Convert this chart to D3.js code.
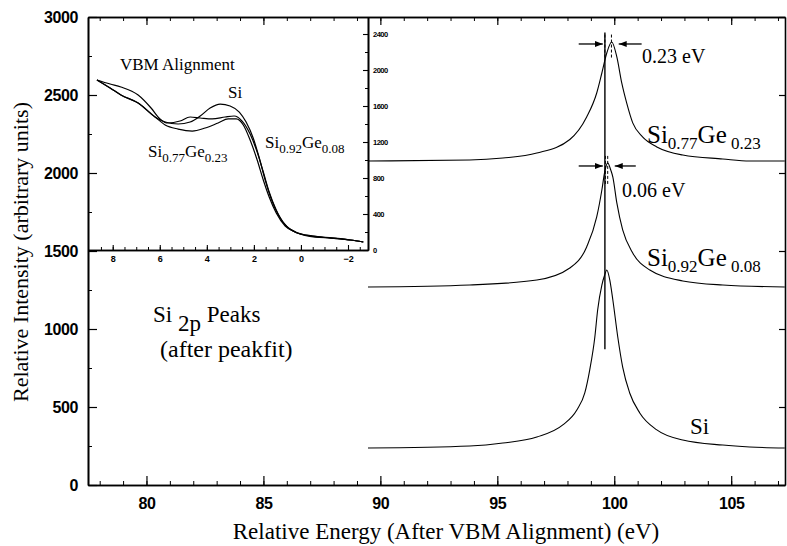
<!DOCTYPE html>
<html>
<head>
<meta charset="utf-8">
<script src="https://cdn.jsdelivr.net/npm/d3@7"></script>
<style>
  body { margin: 0; background: #fff; }
  .tick text { font-family: "Liberation Sans", Arial, sans-serif; font-weight: bold; }
</style>
</head>
<body>
<div id="chart"></div>
<script>
// main peaks: energy (eV) and intensity (arbitrary units)
var siE = [89.47, 93.82, 95.24, 96.69, 97.80, 98.40, 98.74, 98.95, 99.17, 99.29, 99.47, 99.59, 99.68, 99.81, 99.94, 100.15, 100.36, 100.66, 101.09, 101.82, 102.93, 104.64, 105.79, 107.29];
var siI = [237, 250, 269, 308, 385, 481, 590, 737, 949, 1122, 1282, 1346, 1378, 1314, 1186, 949, 756, 590, 462, 353, 288, 256, 244, 237];

var ge08E = [89.47, 93.82, 96.69, 98.10, 98.82, 99.25, 99.47, 99.59, 99.72, 99.85, 99.94, 100.11, 100.36, 100.79, 101.52, 102.93, 104.64, 107.29];
var ge08I = [1269, 1282, 1314, 1391, 1526, 1718, 1891, 2006, 2064, 2019, 1974, 1808, 1635, 1487, 1378, 1308, 1282, 1269];

var ge23E = [89.47, 93.82, 95.24, 96.69, 98.10, 98.82, 99.25, 99.47, 99.68, 99.89, 100.11, 100.32, 100.53, 100.79, 101.21, 101.82, 102.93, 104.64, 105.79, 107.29];
var ge23I = [2077, 2083, 2096, 2128, 2215, 2359, 2513, 2641, 2769, 2840, 2744, 2577, 2449, 2321, 2231, 2167, 2115, 2090, 2077, 2077];

// inset: VBM alignment spectra
var vbmE = [8.67, 8.11, 7.65, 6.92, 6.37, 5.99, 5.65, 5.14, 4.71, 4.28, 3.77, 3.22, 2.84, 2.50, 2.16, 1.86, 1.60, 1.35, 1.05, 0.67, 0.24, -0.40, -1.25, -2.10, -2.65];
var vbmGe08 = [1889, 1844, 1811, 1722, 1578, 1456, 1411, 1433, 1478, 1467, 1456, 1478, 1489, 1433, 1289, 1089, 867, 644, 444, 278, 200, 156, 133, 111, 89];

var vbmSiE = [8.67, 8.11, 7.65, 6.92, 6.20, 5.77, 5.22, 4.71, 4.28, 3.86, 3.43, 3.01, 2.62, 2.33, 2.03, 1.77, 1.52, 1.26, 0.96, 0.58, 0.16, -0.61, -1.46, -2.10, -2.65];
var vbmSi = [1889, 1800, 1722, 1633, 1478, 1422, 1400, 1422, 1489, 1578, 1622, 1600, 1533, 1422, 1244, 1022, 778, 567, 389, 256, 189, 144, 133, 111, 89];

var vbm23E = [8.67, 8.11, 7.65, 6.92, 6.20, 5.77, 5.22, 4.62, 4.07, 3.52, 3.09, 2.75, 2.45, 2.16, 1.86, 1.60, 1.35, 1.05, 0.67, 0.24, -0.48, -1.33, -2.10, -2.65];
var vbmGe23 = [1889, 1800, 1722, 1633, 1478, 1389, 1344, 1322, 1356, 1411, 1456, 1456, 1389, 1222, 1000, 778, 589, 411, 267, 200, 156, 133, 111, 89];

// ticks
var xMajor = [80, 85, 90, 95, 100, 105];
var yMajor = [0, 500, 1000, 1500, 2000, 2500, 3000];
var insetXTicks = [8, 6, 4, 2, 0, -2];
var insetYTicks = [0, 400, 800, 1200, 1600, 2000, 2400];

// shift annotations
var refLineE = 99.6;
var refLineI = [870, 2900];
var dashTopE = [99.6, 99.88];
var dashTopI = [2740, 2900];
var dashMidE = [99.62, 99.72];
var dashMidI = [1930, 2120];
var arrowFrom = [98.48, 101.17, 98.48, 100.92];
var arrowTo = [99.51, 100.19, 99.51, 100.02];
var arrowI = [2827, 2827, 2045, 2045];

var serif = "'Liberation Serif', 'Times New Roman', 'DejaVu Serif', serif";

var svgWidth = 787;
var svgHeight = 546;
var margin = { top: 17, right: 2, bottom: 61, left: 88 };
var width = svgWidth - margin.left - margin.right;
var height = svgHeight - margin.top - margin.bottom;

var svg = d3.select("#chart").append("svg")
  .attr("width", svgWidth)
  .attr("height", svgHeight)
  .style("background", "#fff");

var g = svg.append("g")
  .attr("transform", `translate(${margin.left}, ${margin.top})`);

var x = d3.scaleLinear().domain([77.5, 107.3]).range([0, width]);
var y = d3.scaleLinear().domain([0, 3000]).range([height, 0]);

// inset scales (reversed energy)
var insetW = 280, insetH = 233;
var xi = d3.scaleLinear().domain([9.05, -2.85]).range([0, insetW]);
var yi = d3.scaleLinear().domain([0, 2589]).range([insetH, 0]);

function minorRange(a, b, step) {
  var out = [];
  for (var v = a; v <= b + 1e-9; v += step) out.push(+v.toFixed(3));
  return out;
}

function styleAxis(sel, w) {
  sel.selectAll("path, line").attr("stroke", "#000").attr("stroke-width", w);
  sel.select(".domain").attr("stroke-width", 1.6);
}

// main axes
g.append("g").attr("transform", `translate(0, ${height})`)
  .call(d3.axisBottom(x).tickValues(minorRange(78, 107, 1)).tickSize(-4).tickSizeOuter(0).tickFormat(""))
  .call(styleAxis, 1);
g.append("g").attr("transform", `translate(0, ${height})`)
  .call(d3.axisBottom(x).tickValues(xMajor).tickSize(-9).tickSizeOuter(0).tickPadding(13).tickFormat(d3.format("d")))
  .call(styleAxis, 1.2)
  .selectAll("text").attr("font-size", 16).attr("letter-spacing", -0.4);

g.append("g")
  .call(d3.axisTop(x).tickValues(minorRange(78, 107, 1)).tickSize(-4).tickSizeOuter(0).tickFormat(""))
  .call(styleAxis, 1);
g.append("g")
  .call(d3.axisTop(x).tickValues(xMajor).tickSize(-8).tickSizeOuter(0).tickFormat(""))
  .call(styleAxis, 1.2);

g.append("g")
  .call(d3.axisLeft(y).tickValues(minorRange(250, 2750, 500)).tickSize(-4).tickSizeOuter(0).tickFormat(""))
  .call(styleAxis, 1);
g.append("g")
  .call(d3.axisLeft(y).tickValues(yMajor).tickSize(-9).tickSizeOuter(0).tickPadding(10).tickFormat(d3.format("d")))
  .call(styleAxis, 1.2)
  .selectAll("text").attr("font-size", 16).attr("letter-spacing", -0.4);

g.append("g").attr("transform", `translate(${width}, 0)`)
  .call(d3.axisRight(y).tickValues(yMajor).tickSize(-6).tickSizeOuter(0).tickFormat(""))
  .call(styleAxis, 1.2);

// main curves
var line = d3.line()
  .x(d => x(d[0]))
  .y(d => y(d[1]))
  .curve(d3.curveMonotoneX);

[[siE, siI], [ge08E, ge08I], [ge23E, ge23I]].forEach(function(s) {
  g.append("path")
    .datum(d3.zip(s[0], s[1]))
    .attr("fill", "none")
    .attr("stroke", "#000")
    .attr("stroke-width", 1.1)
    .attr("d", line);
});

// reference line and dashed peak markers
g.append("line")
  .attr("x1", x(refLineE)).attr("x2", x(refLineE))
  .attr("y1", y(refLineI[0])).attr("y2", y(refLineI[1]))
  .attr("stroke", "#000").attr("stroke-width", 1.4);

[[dashTopE, dashTopI], [dashMidE, dashMidI]].forEach(function(dv) {
  dv[0].forEach(function(e) {
    g.append("line")
      .attr("x1", x(e)).attr("x2", x(e))
      .attr("y1", y(dv[1][0])).attr("y2", y(dv[1][1]))
      .attr("stroke", "#000").attr("stroke-width", 1)
      .attr("stroke-dasharray", "3,2");
  });
});

svg.append("defs").append("marker")
  .attr("id", "head")
  .attr("viewBox", "0 0 8 6")
  .attr("refX", 8).attr("refY", 3)
  .attr("markerWidth", 8).attr("markerHeight", 6)
  .attr("markerUnits", "userSpaceOnUse")
  .attr("orient", "auto")
  .append("path").attr("d", "M0,0L8,3L0,6Z").attr("fill", "#000");

arrowFrom.forEach(function(a, i) {
  g.append("line")
    .attr("x1", x(a)).attr("x2", x(arrowTo[i]))
    .attr("y1", y(arrowI[i])).attr("y2", y(arrowI[i]))
    .attr("stroke", "#000").attr("stroke-width", 1.3)
    .attr("marker-end", "url(#head)");
});

// inset
var ig = g.append("g");
ig.append("g").attr("transform", `translate(0, ${insetH})`)
  .call(d3.axisBottom(xi).tickValues(minorRange(-2.5, 8.5, 0.5)).tickSize(-3).tickSizeOuter(0).tickFormat(""))
  .call(styleAxis, 1);
ig.append("g").attr("transform", `translate(0, ${insetH})`)
  .call(d3.axisBottom(xi).tickValues(insetXTicks).tickSize(-5).tickSizeOuter(0).tickPadding(6).tickFormat(d3.format("d")))
  .call(styleAxis, 1.1)
  .selectAll("text").attr("font-size", 9);

ig.append("g").attr("transform", `translate(${insetW}, 0)`)
  .call(d3.axisRight(yi).tickValues(minorRange(200, 2400, 400)).tickSize(-3).tickSizeOuter(0).tickFormat(""))
  .call(styleAxis, 1);
ig.append("g").attr("transform", `translate(${insetW}, 0)`)
  .call(d3.axisRight(yi).tickValues(insetYTicks).tickSize(-5).tickSizeOuter(0).tickPadding(5).tickFormat(d3.format("d")))
  .call(styleAxis, 1.1)
  .selectAll("text").attr("font-size", 7.5).attr("letter-spacing", -0.5);

var iline = d3.line()
  .x(d => xi(d[0]))
  .y(d => yi(d[1]))
  .curve(d3.curveMonotoneX);

[[vbmE, vbmGe08], [vbmSiE, vbmSi], [vbm23E, vbmGe23]].forEach(function(s) {
  ig.append("path")
    .datum(d3.zip(s[0], s[1]))
    .attr("fill", "none")
    .attr("stroke", "#000")
    .attr("stroke-width", 1.2)
    .attr("d", iline);
});

// labels
function label(px, py, size, parts) {
  var t = svg.append("text")
    .attr("font-family", serif)
    .attr("fill", "#000")
    .attr("x", px).attr("y", py).attr("font-size", size);
  parts.forEach(function(p) {
    t.append("tspan").text(p[0])
      .attr("font-family", serif)
      .attr("font-size", p[1] || size)
      .attr("dy", p[2] || 0);
  });
  return t;
}

label(120, 70, 17, [["VBM Alignment"]]);
label(228, 98, 17, [["Si"]]);
label(148, 157, 17, [["Si"], ["0.77", 13, 5], ["Ge", 17, -5], ["0.23", 13, 5]]);
label(265, 148, 17, [["Si"], ["0.92", 13, 5], ["Ge", 17, -5], ["0.08", 13, 5]]);

label(153, 322, 23, [["Si "], ["2p", 23, 9], [" Peaks", 23, -9]]);
label(160, 357, 24, [["(after peakfit)"]]);

label(642, 63, 20, [["0.23 eV"]]);
label(622, 197, 20, [["0.06 eV"]]);
label(647, 143, 25, [["Si"], ["0.77", 17, 6], ["Ge", 25, -6], [" 0.23", 17, 6]]);
label(647, 266, 25, [["Si"], ["0.92", 17, 6], ["Ge", 25, -6], [" 0.08", 17, 6]]);
label(690, 434, 23, [["Si"]]);

svg.append("text")
  .attr("font-family", serif)
  .attr("x", 446)
  .attr("y", 539)
  .attr("text-anchor", "middle")
  .attr("font-size", 23)
  .text("Relative Energy (After VBM Alignment) (eV)");

svg.append("text")
  .attr("font-family", serif)
  .attr("transform", "rotate(-90)")
  .attr("x", -252)
  .attr("y", 28)
  .attr("text-anchor", "middle")
  .attr("font-size", 22)
  .text("Relative Intensity (arbitrary units)");
</script>
</body>
</html>
